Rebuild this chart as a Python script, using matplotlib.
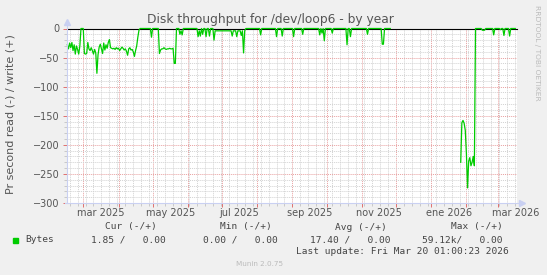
import matplotlib

matplotlib.use("Agg")
import matplotlib.pyplot as plt
import matplotlib.dates as mdates
import matplotlib.ticker as mticker
import matplotlib.transforms as mtransforms
from matplotlib.patches import Rectangle
import numpy as np

W, H = 547, 275

# read throughput (plotted negative), one value per day where it changes
read_dates = [
    "2025-02-15", "2025-02-16", "2025-02-17", "2025-02-18", "2025-02-19",
    "2025-02-20", "2025-02-21", "2025-02-22", "2025-02-23", "2025-02-24",
    "2025-02-25", "2025-02-26", "2025-02-27", "2025-03-01", "2025-03-02",
    "2025-03-03", "2025-03-04", "2025-03-05", "2025-03-06", "2025-03-07",
    "2025-03-08", "2025-03-09", "2025-03-10", "2025-03-11", "2025-03-12",
    "2025-03-13", "2025-03-14", "2025-03-15", "2025-03-16", "2025-03-17",
    "2025-03-18", "2025-03-19", "2025-03-20", "2025-03-21", "2025-03-22",
    "2025-03-23", "2025-03-24", "2025-03-25", "2025-03-26", "2025-03-27",
    "2025-03-28", "2025-03-29", "2025-03-30", "2025-03-31", "2025-04-01",
    "2025-04-02", "2025-04-03", "2025-04-04", "2025-04-05", "2025-04-06",
    "2025-04-07", "2025-04-08", "2025-04-09", "2025-04-10", "2025-04-11",
    "2025-04-12", "2025-04-13", "2025-04-14", "2025-04-15", "2025-04-16",
    "2025-04-17", "2025-04-18", "2025-04-19", "2025-04-20", "2025-04-29",
    "2025-04-30", "2025-05-01", "2025-05-06", "2025-05-07", "2025-05-08",
    "2025-05-09", "2025-05-10", "2025-05-11", "2025-05-12", "2025-05-13",
    "2025-05-14", "2025-05-15", "2025-05-16", "2025-05-17", "2025-05-18",
    "2025-05-19", "2025-05-20", "2025-05-21", "2025-05-22", "2025-05-24",
    "2025-05-25", "2025-05-26", "2025-05-27", "2025-05-28", "2025-06-09",
    "2025-06-10", "2025-06-11", "2025-06-12", "2025-06-13", "2025-06-14",
    "2025-06-15", "2025-06-16", "2025-06-17", "2025-06-18", "2025-06-19",
    "2025-06-20", "2025-06-21", "2025-06-23", "2025-06-24", "2025-06-25",
    "2025-07-09", "2025-07-10", "2025-07-11", "2025-07-13", "2025-07-14",
    "2025-07-15", "2025-07-17", "2025-07-18", "2025-07-19", "2025-07-20",
    "2025-07-21", "2025-07-22", "2025-08-03", "2025-08-04", "2025-08-05",
    "2025-08-17", "2025-08-18", "2025-08-19", "2025-08-22", "2025-08-23",
    "2025-08-24", "2025-09-01", "2025-09-02", "2025-09-03", "2025-09-09",
    "2025-09-10", "2025-09-11", "2025-09-24", "2025-09-25", "2025-09-26",
    "2025-09-27", "2025-09-28", "2025-09-29", "2025-09-30", "2025-10-05",
    "2025-10-06", "2025-10-07", "2025-10-18", "2025-10-19", "2025-10-20",
    "2025-10-21", "2025-10-22", "2025-10-23", "2025-11-05", "2025-11-06",
    "2025-11-07", "2025-11-18", "2025-11-19", "2025-11-20", "2025-11-21",
    "2025-11-26", "2025-11-27", "2026-01-26", "2026-01-27", "2026-01-28",
    "2026-01-29", "2026-01-30", "2026-01-31", "2026-02-01", "2026-02-02",
    "2026-02-03", "2026-02-04", "2026-02-05", "2026-02-06", "2026-02-07",
    "2026-02-08", "2026-02-09", "2026-02-14", "2026-02-15", "2026-02-17",
    "2026-02-18", "2026-02-24", "2026-02-25", "2026-02-26", "2026-03-02",
    "2026-03-03", "2026-03-04", "2026-03-05", "2026-03-06", "2026-03-07",
    "2026-03-10", "2026-03-11", "2026-03-12", "2026-03-16",
]
read_values = [
    -28, -35, -25, -33, -24,
    -38, -28, -44, -30, -36,
    -44, -30, 0, 0, -43,
    -44, -43, -24, -35, -38,
    -33, -38, -44, -36, -42,
    -77, -45, -32, -27, -35,
    -43, -25, -37, -28, -34,
    -24, -19, -33, -34, -35,
    -34, -36, -33, -35, -34,
    -38, -35, -32, -34, -37,
    -35, -39, -46, -35, -33,
    -37, -36, -40, -48, -38,
    -30, -15, -3, 0, 0,
    -15, 0, 0, -43, -37,
    -35, -35, -33, -35, -36,
    -35, -35, -34, -35, -35,
    -34, -60, -60, 0, 0,
    -10, -4, -11, 0, 0,
    -14, -4, -13, 0, -10,
    0, 0, -14, 0, 0,
    -13, 0, 0, -20, -4,
    -4, -13, -4, -4, -14,
    -4, -4, -12, -4, -42,
    -4, 0, 0, -11, 0,
    0, -14, 0, 0, -13,
    0, 0, -14, 0, 0,
    -10, 0, 0, -11, 0,
    -8, 0, -21, 0, 0,
    -8, 0, 0, -28, 0,
    0, -14, 0, 0, -10,
    0, 0, -27, -27, 0,
    0, np.nan, np.nan, -230, -162,
    -158, -163, -175, -215, -274,
    -228, -222, -236, -230, -220,
    -236, 0, 0, -3, -3,
    0, 0, -11, 0, 0,
    -2, 0, 0, -12, 0,
    0, -13, 0, 0,
]

y_ticks = [0, -50, -100, -150, -200, -250, -300]
label_months = ["2025-03", "2025-05", "2025-07", "2025-09", "2025-11", "2026-01", "2026-03"]
month_labels = ["mar 2025", "may 2025", "jul 2025", "sep 2025", "nov 2025", "ene 2026", "mar 2026"]

legend_headers = ["Cur (-/+)", "Min (-/+)", "Avg (-/+)", "Max (-/+)"]
legend_values = ["1.85 /   0.00", "0.00 /   0.00", "17.40 /   0.00", "59.12k/   0.00"]
last_update = "Last update: Fri Mar 20 01:00:23 2026"

text_color = "#555555"
axis_color = "#C9D0F2"
green = "#00CC00"


def fx(px):
    return px / W


def fy(py):
    return 1 - py / H


fig = plt.figure(figsize=(W / 100, H / 100), dpi=100, facecolor="#F0F0F0")
ax = fig.add_axes([fx(67), fy(203), (517 - 67) / W, (203 - 28.5) / H])
ax.set_facecolor("white")

x = mdates.date2num(np.array(read_dates, dtype="datetime64[D]"))
mar1 = mdates.date2num(np.datetime64("2025-03-01"))
ax.set_xlim(mar1 - 14.3, mar1 + 381.5)
ax.set_ylim(-300, 0)

ax.axhline(0, color="black", linewidth=0.8, clip_on=False, zorder=3)
ax.plot(x, read_values, color=green, linewidth=0.9, clip_on=False, zorder=4)

# grid
ax.xaxis.set_major_locator(mdates.MonthLocator())
ax.xaxis.set_minor_locator(mdates.WeekdayLocator(byweekday=mdates.MO))
ax.xaxis.set_major_formatter(mticker.NullFormatter())
ax.set_yticks(y_ticks)
ax.yaxis.set_minor_locator(mticker.MultipleLocator(10))
ax.grid(which="minor", color="#D2D2D2", linestyle=(0, (1, 1)), linewidth=0.7, zorder=1)
ax.grid(which="major", color="#E8A0A0", linestyle=(0, (1, 1)), linewidth=0.7, zorder=2)
ax.set_axisbelow(True)

ax.tick_params(which="major", length=3, width=0.7, color="#E07070",
               labelsize=7, labelcolor=text_color, pad=2.5)
ax.tick_params(which="minor", length=2, width=0.7, color="#C8C8C8")

for s in ax.spines.values():
    s.set_visible(False)

# axis lines with arrows, rrdtool style
ax.plot([0, 0], [0, 1.03], transform=ax.transAxes, color=axis_color,
        linewidth=0.8, clip_on=False, zorder=5)
ax.plot([0], [1.035], marker="^", markersize=4, color=axis_color,
        transform=ax.transAxes, clip_on=False, zorder=5)
ax.plot([-0.005, 1.008], [0, 0], transform=ax.transAxes, color=axis_color,
        linewidth=0.8, clip_on=False, zorder=5)
ax.plot([1.011], [0], marker=">", markersize=4, color=axis_color,
        transform=ax.transAxes, clip_on=False, zorder=5)

# month labels centred inside their month
trans = mtransforms.blended_transform_factory(ax.transData, fig.transFigure)
for m, lab in zip(label_months, month_labels):
    start = mdates.date2num(np.datetime64(m + "-01"))
    nxt = mdates.date2num(np.datetime64(m, "M") + np.timedelta64(1, "M"))
    ax.text((start + nxt) / 2, fy(213), lab, transform=trans, ha="center",
            va="center", fontsize=7, color=text_color)

fig.text(fx(270), fy(19), "Disk throughput for /dev/loop6 - by year",
         ha="center", va="center", fontsize=8.8, color=text_color)
fig.text(fx(11), fy(114), "Pr second read (-) / write (+)", rotation=90,
         ha="center", va="center", fontsize=8, color=text_color)
fig.text(fx(537), fy(53), "RRDTOOL / TOBI OETIKER", rotation=270,
         ha="center", va="center", fontsize=5.4, color="#BBBBBB")

# legend block
mono = dict(family="DejaVu Sans Mono", fontsize=6.8, color="#444444", va="center")
for txt, right in zip(legend_headers, [157, 272, 387, 503]):
    fig.text(fx(right), fy(227), txt, ha="right", **mono)
fig.add_artist(Rectangle((fx(13.3), fy(242.5)), 5 / W, 5 / H,
                         transform=fig.transFigure, color=green))
fig.text(fx(25), fy(240), "Bytes", ha="left", **mono)
for txt, right in zip(legend_values, [166, 278, 391, 503]):
    fig.text(fx(right), fy(240), txt, ha="right", **mono)
fig.text(fx(509), fy(252), last_update, ha="right", **mono)
fig.text(fx(260), fy(264), "Munin 2.0.75", ha="center", va="center",
         fontsize=5.2, color="#BBBBBB")

fig.savefig("out.png", dpi=100, facecolor=fig.get_facecolor())
plt.close(fig)
